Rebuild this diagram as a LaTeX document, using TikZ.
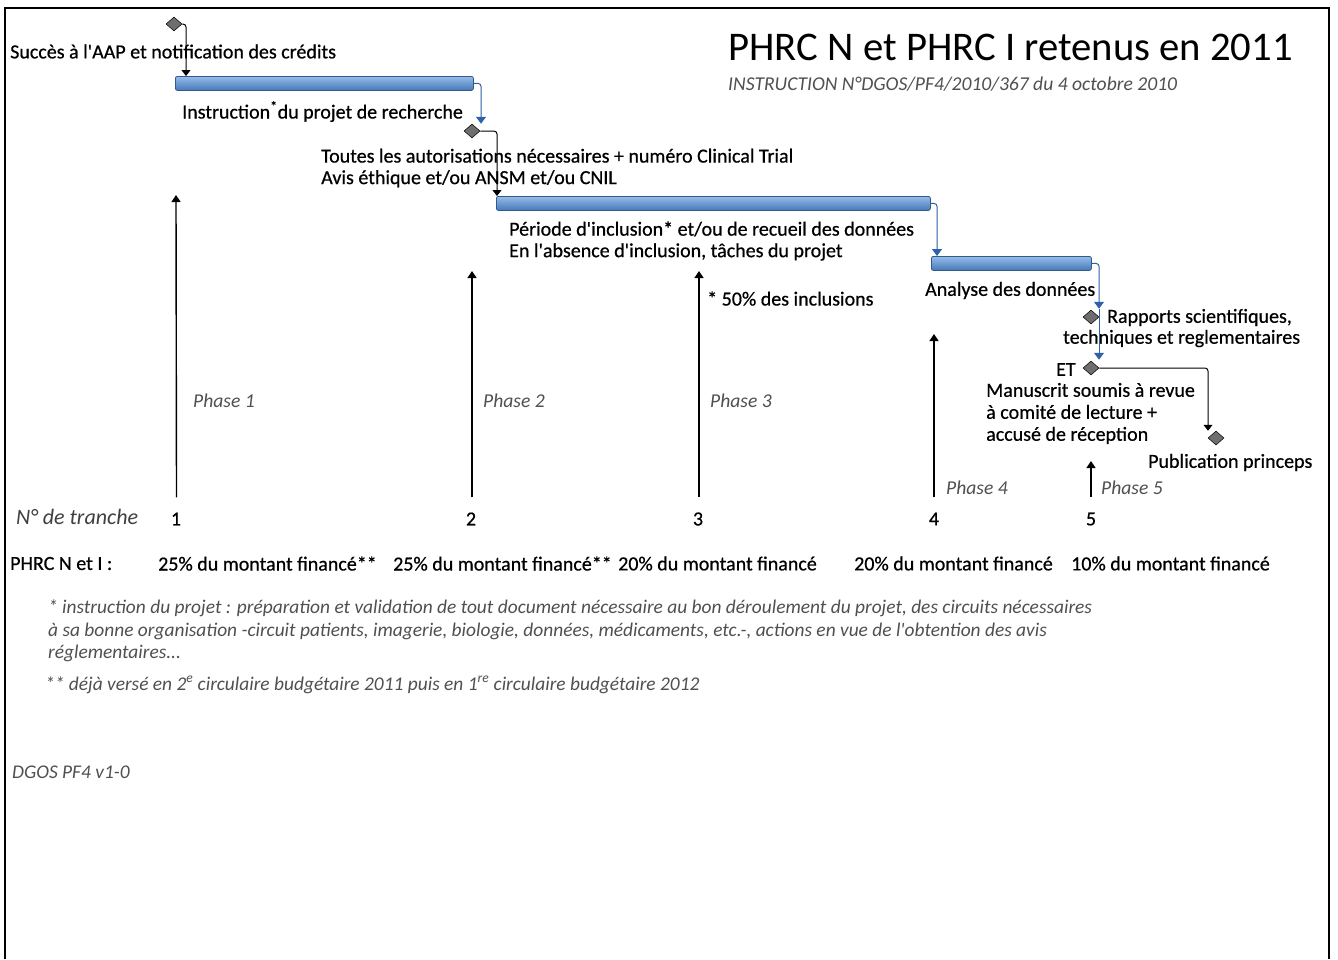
\documentclass[tikz,border=0pt]{standalone}
\usepackage{fontspec}
\setmainfont{Carlito}
\usetikzlibrary{shapes.geometric,arrows.meta}
\definecolor{barTop}{RGB}{150,188,232}
\definecolor{barBot}{RGB}{70,120,185}
\definecolor{barEdge}{RGB}{52,90,140}
\definecolor{linkBlue}{RGB}{46,98,168}
\definecolor{msGray}{RGB}{110,110,110}
\definecolor{phGray}{RGB}{80,80,80}
\newcommand\mfont{\fontsize{20}{21.5}\selectfont\addfontfeature{FakeBold=0.6}}
\newcommand\ffont{\fontsize{19.4}{22.5}\selectfont\itshape}
\tikzset{
  lbl/.style={font=\mfont, inner sep=0pt, anchor=west, align=left, yshift=-1.5pt},
  ph/.style={font=\fontsize{19.6}{22}\selectfont\itshape, text=phGray, inner sep=0pt, anchor=west},
  fn/.style={font=\ffont, text=phGray, inner sep=0pt, anchor=west, align=left},
  bar/.style={rectangle, rounded corners=2pt, draw=barEdge, line width=0.8pt,
    top color=barTop, bottom color=barBot, minimum height=14pt, inner sep=0pt, anchor=north west},
  ms/.style={diamond, draw=black, line width=0.5pt, fill=msGray, minimum width=16pt, minimum height=14pt, inner sep=0pt},
  link/.style={draw=black, line width=1pt, rounded corners=3pt, -{Triangle[width=9pt,length=6pt]}},
  blink/.style={draw=linkBlue, line width=1pt, rounded corners=3pt, -{Triangle[width=10pt,length=7pt,fill=linkBlue]}},
  uparrow/.style={draw=black, line width=1.4pt, -{Triangle[width=9pt,length=7pt]}},
}
\begin{document}
\begin{tikzpicture}[x=1pt,y=-1pt]
\useasboundingbox (0,0) rectangle (1338,959);
\fill[white] (0,0) rectangle (1338,959);
\draw[line width=1.5pt] (5,959) -- (5,8) -- (1329,8) -- (1329,959);

% title
\node[font=\fontsize{40.7}{46}\selectfont, inner sep=0pt, anchor=east] (title) at (1293,47) {PHRC N et PHRC I retenus en 2011};
\node[font=\fontsize{19.6}{22}\selectfont\itshape, text=phGray, inner sep=0pt, anchor=west] (sub) at (728,84) {INSTRUCTION N°DGOS/PF4/2010/367 du 4 octobre 2010};

% milestones and bars
\node[ms] (d1) at (174,24) {};
\node[lbl] (t1) at (10,50) {Succès à l\textquotesingle AAP et notification des crédits};
\node[bar, minimum width=298pt] (b1) at (175,76) {};
\node[lbl] (t2) at (182,110) {Instruction\textsuperscript{*}du projet de recherche};
\node[ms] (d2) at (472,131) {};
\node[lbl] (t3) at (321,166.5) {Toutes les autorisations nécessaires + numéro Clinical Trial\\Avis éthique et/ou ANSM et/ou CNIL};
\node[bar, minimum width=434pt] (b2) at (496,196) {};
\node[lbl] (t4) at (509,239.5) {Période d\textquotesingle inclusion* et/ou de recueil des données\\En l\textquotesingle absence d\textquotesingle inclusion, tâches du projet};
\node[bar, minimum width=160pt] (b3) at (931,256) {};
\node[lbl] (t5) at (925,289) {Analyse des données};
\node[ms] (d3) at (1091,317) {};
\node[lbl] (t6a) at (1107,316) {Rapports scientifiques,};
\node[lbl] (t6b) at (1063,337) {techniques et reglementaires};
\node[ms] (d4) at (1091,368) {};
\node[lbl] (et) at (1056,368) {ET};
\node[lbl, font=\mfont\linespread{1}\fontsize{20}{22}\selectfont] (t7) at (986,412) {Manuscrit soumis à revue\\à comité de lecture +\\accusé de réception};
\node[ms] (d5) at (1216,438) {};
\node[lbl] (t8) at (1148,461) {Publication princeps};
\node[lbl] (t9) at (707,297) {* 50\% des inclusions};

% connectors
\draw[link] (d1.east) -| ([xshift=11pt]b1.north west);
\draw[blink] (b1.east) -| ([xshift=9pt]d2.north);
\draw[link] (d2.east) -| ([xshift=1pt]b2.north west);
\draw[blink] (b2.east) -| ([xshift=6pt]b3.north west);
\draw[blink] (b3.east) -| ([xshift=8pt,yshift=1pt]d3.north);
\draw[blink] ([xshift=8pt,yshift=1pt]d3.north) -- ([xshift=8pt,yshift=1pt]d4.north);
\draw[link] (d4.east) -| ([xshift=-8pt]d5.north);

% tranche numbers
\node[font=\mfont, inner sep=0pt] (n1) at (176,519) {1};
\node[font=\mfont, inner sep=0pt] (n2) at (471,519) {2};
\node[font=\mfont, inner sep=0pt] (n3) at (698,519) {3};
\node[font=\mfont, inner sep=0pt] (n4) at (934,519) {4};
\node[font=\mfont, inner sep=0pt] (n5) at (1091,519) {5};
\node[font=\fontsize{22}{24}\selectfont\itshape, text=black!75, inner sep=0pt, anchor=west] (tr) at (16,517) {N° de tranche};

% vertical arrows
\coordinate (a1) at (176,195);
\coordinate (a2) at (472,271);
\coordinate (a3) at (699,271);
\coordinate (a4) at (934,334);
\coordinate (a5) at (1091,461);
\draw[uparrow] ([xshift=0.5pt,yshift=15pt]n1.north) -- (a1);
\draw[uparrow] ([xshift=1pt,yshift=15pt]n2.north) -- (a2);
\draw[uparrow] ([xshift=1pt,yshift=15pt]n3.north) -- (a3);
\draw[uparrow] ([yshift=15pt]n4.north) -- (a4);
\draw[uparrow] ([yshift=15pt]n5.north) -- (a5);

% phase labels
\node[ph] (p1) at (193,401) {Phase 1};
\node[ph] (p2) at (483,401) {Phase 2};
\node[ph] (p3) at (710,401) {Phase 3};
\node[ph] (p4) at (946,488) {Phase 4};
\node[ph] (p5) at (1101,488) {Phase 5};

% amounts
\node[lbl] (phrc) at (10,562) {PHRC N et I :};
\node[lbl] (m1) at (158,562) {25\% du montant financé**};
\node[lbl] (m2) at (393,562) {25\% du montant financé**};
\node[lbl] (m3) at (618,562) {20\% du montant financé};
\node[lbl] (m4) at (854,562) {20\% du montant financé};
\node[lbl] (m5) at (1071,562) {10\% du montant financé};

% footnotes
\node[fn] (f1) at (48,631) {* instruction du projet : préparation et validation de tout document nécessaire au bon déroulement du projet, des circuits nécessaires\\à sa bonne organisation -circuit patients, imagerie, biologie, données, médicaments, etc.-, actions en vue de l\textquotesingle obtention des avis\\réglementaires...};
\node[fn] (f2) at (45,685) {** déjà versé en 2\textsuperscript{e} circulaire budgétaire 2011 puis en 1\textsuperscript{re} circulaire budgétaire 2012};
\node[fn] (ver) at (12,772) {DGOS PF4 v1-0};
\end{tikzpicture}
\end{document}
